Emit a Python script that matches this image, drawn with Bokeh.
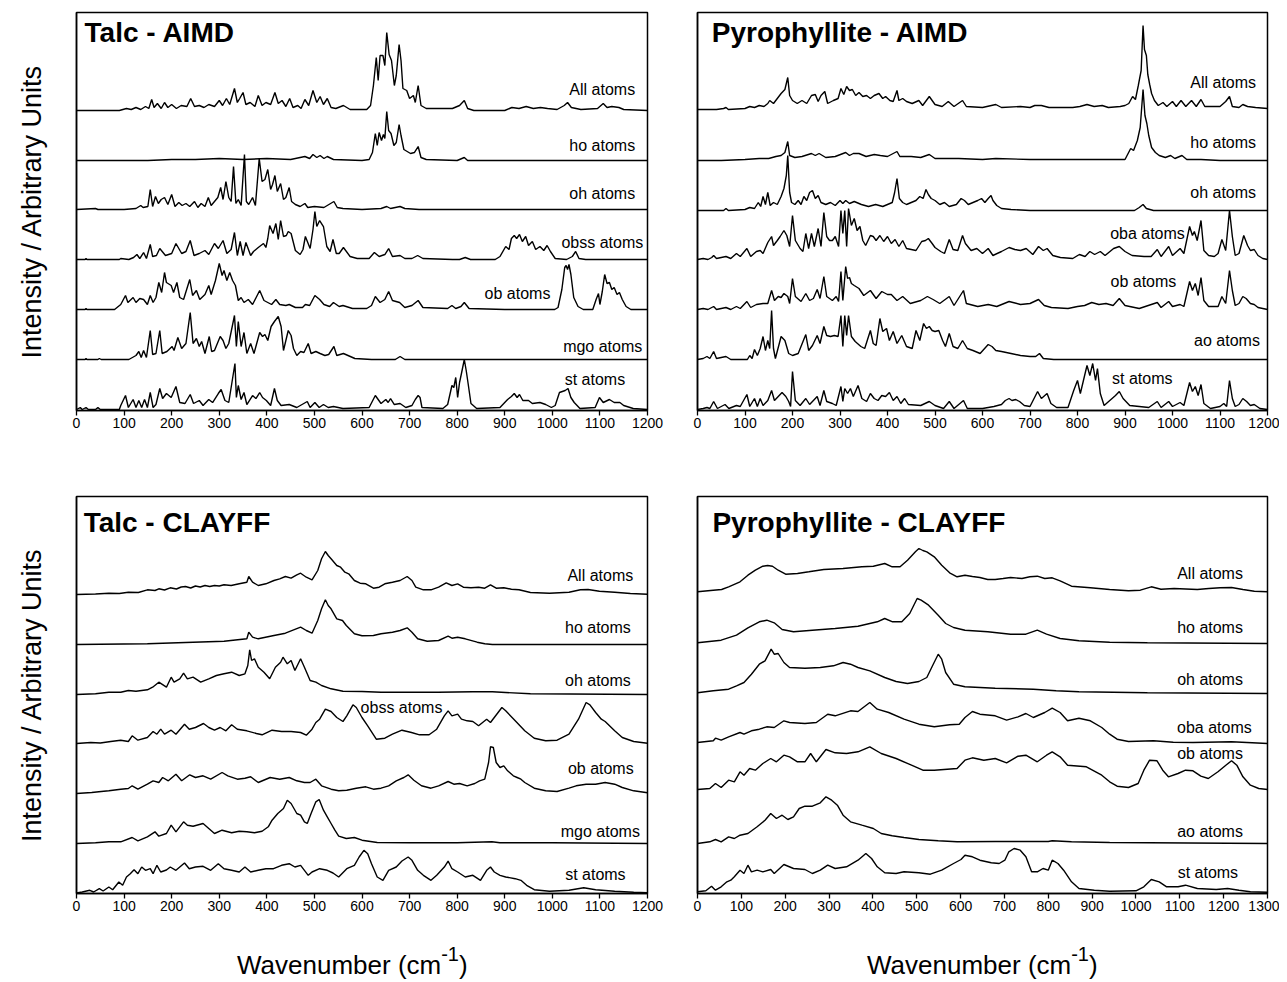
from bokeh.plotting import figure
from bokeh.layouts import column, row
from bokeh.models import ColumnDataSource, Label, FixedTicker, Div
from bokeh.embed import file_html
from bokeh.resources import INLINE

FONT = "Liberation Sans"

# ---------------- categories / texts ----------------
PANEL_TITLES = ["Talc - AIMD", "Pyrophyllite - AIMD", "Talc - CLAYFF", "Pyrophyllite - CLAYFF"]
TALC_LABELS = ["All atoms", "ho atoms", "oh atoms", "obss atoms", "ob atoms", "mgo atoms", "st atoms"]
PYRO_LABELS = ["All atoms", "ho atoms", "oh atoms", "oba atoms", "ob atoms", "ao atoms", "st atoms"]
Y_TITLE = "Intensity / Arbitrary Units"
X_TITLE = ("Wavenumber (cm", "-1", ")")
X_TICKS_1200 = [0, 100, 200, 300, 400, 500, 600, 700, 800, 900, 1000, 1100, 1200]
X_TICKS_1300 = [0, 100, 200, 300, 400, 500, 600, 700, 800, 900, 1000, 1100, 1200, 1300]

# ---------------- spectra: (wavenumber cm-1, intensity a.u.) ----------------
TALC_AIMD_ALL = [(0,0),(90,0),(105,2),(115,1),(125,3),(135,1),(145,4),(152,2),(158,11),(163,3),(170,7),(178,2),(185,8),(192,3),(200,6),(210,2),(220,5),(232,4),(240,12),(248,4),(258,5),(268,3),(278,6),(290,4),(300,10),(307,5),(315,12),(322,6),(332,22),(338,8),(343,12),(350,18),(356,6),(365,8),(375,4),(382,15),(390,5),(398,8),(408,6),(417,18),(424,7),(432,10),(440,4),(448,12),(455,3),(465,5),(472,2),(480,11),(488,5),(497,20),(505,8),(512,14),(519,6),(527,12),(535,3),(545,2),(561,5),(575,1),(610,1),(618,5),(624,25),(630,53),(634,30),(638,55),(644,55),(648,45),(652,78),(657,56),(662,50),(668,25),(672,35),(678,66),(682,50),(686,22),(694,20),(700,12),(708,15),(712,8),(718,25),(724,5),(735,2),(790,2),(805,5),(815,10),(822,2),(835,0),(900,0),(915,3),(930,2),(945,4),(960,2),(975,3),(990,2),(1010,1),(1025,5),(1032,8),(1040,3),(1060,1),(1095,2),(1107,7),(1115,3),(1125,4),(1140,3),(1150,1),(1200,0)]
TALC_AIMD_HO = [(0,0),(150,0),(200,1),(250,1),(300,2),(350,1),(400,2),(450,1),(480,4),(490,2),(497,6),(505,3),(512,5),(520,2),(527,4),(540,1),(600,0),(615,1),(622,8),(628,27),(632,15),(636,28),(641,20),(645,26),(648,22),(652,49),(656,30),(661,27),(667,15),(672,18),(678,36),(682,25),(688,11),(695,9),(702,7),(710,8),(718,14),(724,3),(735,1),(800,0),(815,3),(822,0),(1200,0)]
TALC_AIMD_OH = [(0,0),(40,1),(45,0),(100,0),(125,1),(135,4),(140,2),(150,3),(155,20),(160,3),(166,13),(172,6),(178,10),(185,12),(192,5),(200,15),(207,3),(215,7),(222,4),(230,6),(238,3),(248,8),(255,2),(262,6),(270,3),(277,12),(283,4),(290,8),(297,12),(303,22),(308,10),(314,28),(320,12),(325,8),(330,43),(335,6),(340,10),(346,4),(353,55),(357,8),(362,5),(370,12),(376,4),(384,51),(390,28),(396,30),(402,40),(408,20),(412,25),(417,34),(422,18),(429,26),(435,10),(440,12),(447,22),(452,8),(460,5),(470,3),(480,6),(486,2),(500,3),(520,2),(541,8),(548,2),(560,1),(600,0),(640,1),(652,3),(660,1),(680,3),(690,1),(720,0),(1200,0)]
TALC_AIMD_OBSS = [(0,0),(18,0),(20,1),(22,0),(90,0),(93,1),(110,0),(120,2),(127,5),(133,1),(141,7),(147,1),(155,15),(160,3),(168,4),(175,11),(187,4),(200,6),(209,16),(221,6),(230,8),(239,19),(247,4),(258,6),(270,9),(278,5),(290,16),(298,11),(308,19),(316,6),(325,10),(332,27),(338,4),(344,18),(350,4),(356,17),(366,4),(372,8),(382,12),(393,16),(398,12),(402,21),(406,34),(413,26),(419,36),(424,20),(429,39),(435,23),(441,24),(445,28),(451,26),(460,9),(470,5),(476,10),(481,23),(491,11),(497,30),(501,48),(505,33),(511,39),(519,33),(526,13),(533,8),(539,20),(546,6),(552,6),(561,12),(575,3),(590,1),(615,1),(626,7),(636,3),(648,5),(656,11),(664,3),(680,4),(690,1),(705,1),(717,4),(728,1),(790,0),(805,0),(817,2),(828,0),(880,0),(890,3),(902,13),(909,10),(914,21),(920,24),(925,21),(931,25),(937,18),(944,23),(950,14),(958,18),(965,10),(974,13),(982,9),(989,14),(996,8),(1006,1),(1030,0),(1042,3),(1049,8),(1056,1),(1070,0),(1200,0)]
TALC_AIMD_OB = [(0,0),(18,0),(20,1),(22,0),(80,0),(93,5),(103,14),(108,7),(119,12),(125,7),(133,11),(141,10),(149,5),(155,14),(161,7),(167,12),(173,27),(179,17),(185,37),(189,27),(199,24),(204,17),(211,27),(217,12),(225,10),(238,30),(244,14),(252,19),(259,10),(270,15),(278,24),(283,15),(292,29),(300,46),(306,34),(310,39),(316,29),(322,37),(328,29),(334,24),(340,9),(346,12),(352,7),(361,10),(370,5),(385,19),(394,9),(410,5),(419,10),(427,5),(440,4),(447,5),(460,2),(475,2),(481,5),(490,4),(501,14),(511,10),(520,5),(532,3),(540,7),(552,3),(560,4),(580,1),(610,1),(620,4),(628,13),(638,7),(648,10),(656,18),(664,9),(679,7),(690,2),(705,4),(718,9),(728,2),(780,1),(789,4),(797,1),(808,3),(815,7),(825,1),(900,0),(1005,0),(1012,2),(1020,20),(1026,42),(1029,44),(1032,40),(1035,45),(1039,35),(1045,12),(1054,3),(1065,0),(1085,0),(1092,10),(1097,16),(1100,5),(1105,18),(1110,35),(1115,26),(1120,27),(1125,20),(1130,22),(1136,15),(1141,17),(1147,10),(1155,3),(1165,0),(1200,0)]
TALC_AIMD_MGO = [(0,0),(18,0),(20,1),(22,0),(45,0),(48,1),(52,0),(110,0),(125,4),(131,8),(136,2),(141,9),(147,2),(155,29),(160,5),(167,6),(175,29),(180,6),(190,8),(201,13),(205,9),(213,22),(221,11),(230,16),(239,47),(245,16),(252,21),(258,13),(263,18),(270,6),(279,23),(284,8),(290,9),(302,23),(308,19),(314,11),(320,16),(332,44),(336,13),(340,38),(346,13),(352,27),(358,6),(366,16),(373,6),(385,27),(391,23),(396,25),(402,19),(409,33),(416,38),(424,43),(430,33),(435,9),(445,29),(451,24),(456,11),(463,4),(471,8),(478,7),(487,16),(493,6),(503,8),(512,6),(522,4),(530,5),(541,13),(547,4),(561,6),(585,1),(620,0),(670,0),(680,3),(690,0),(1200,0)]
TALC_AIMD_ST = [(0,0),(8,2),(12,0),(20,2),(25,0),(40,0),(45,2),(50,0),(90,0),(93,4),(103,14),(109,2),(119,10),(125,2),(131,9),(137,2),(143,10),(149,2),(155,17),(161,2),(167,5),(175,21),(181,11),(189,16),(199,12),(209,23),(217,7),(228,6),(239,15),(246,6),(258,9),(266,4),(278,10),(286,7),(298,16),(304,20),(312,9),(320,7),(333,46),(336,12),(340,24),(346,10),(352,17),(358,5),(370,14),(377,11),(385,17),(391,12),(399,9),(408,4),(416,21),(422,9),(430,4),(447,5),(463,2),(485,8),(491,2),(501,7),(510,2),(519,5),(529,2),(540,3),(560,1),(615,2),(628,14),(640,6),(650,10),(655,7),(660,11),(668,5),(680,6),(692,2),(705,4),(712,10),(718,14),(722,12),(726,2),(770,1),(780,5),(789,24),(793,22),(797,32),(801,12),(805,27),(809,36),(815,50),(819,39),(823,26),(829,6),(841,1),(890,2),(906,10),(914,13),(920,16),(926,12),(931,15),(938,9),(950,9),(958,6),(974,7),(986,5),(998,2),(1006,4),(1015,17),(1021,18),(1027,19),(1033,21),(1039,12),(1046,7),(1058,1),(1090,2),(1099,12),(1107,7),(1120,10),(1130,7),(1142,7),(1150,4),(1170,1),(1200,0)]

PYRO_AIMD_ALL = [(0,0),(40,0),(55,1),(60,2),(65,0),(100,1),(110,3),(120,2),(130,4),(140,3),(148,6),(152,9),(160,6),(168,11),(176,16),(184,20),(190,32),(194,14),(200,9),(210,6),(220,9),(230,6),(240,14),(248,15),(254,8),(260,14),(268,18),(274,6),(286,9),(296,11),(302,21),(308,15),(314,23),(320,19),(326,20),(333,14),(340,17),(348,13),(356,14),(364,11),(372,14),(382,16),(390,11),(396,13),(405,9),(412,8),(420,19),(424,9),(432,11),(440,8),(452,6),(466,9),(474,4),(488,13),(500,5),(515,3),(528,8),(540,3),(558,9),(566,3),(600,2),(628,5),(640,2),(680,3),(700,2),(710,4),(724,4),(740,2),(790,2),(805,3),(820,5),(835,3),(852,4),(865,2),(890,3),(900,4),(908,6),(916,13),(922,10),(928,24),(934,39),(938,84),(941,60),(945,54),(948,35),(952,25),(956,16),(962,9),(970,4),(980,7),(988,3),(1000,8),(1008,3),(1018,9),(1028,3),(1040,9),(1050,3),(1060,10),(1068,3),(1100,3),(1112,8),(1120,13),(1126,3),(1140,2),(1148,5),(1158,3),(1175,2),(1200,1)]
PYRO_AIMD_HO = [(0,0),(50,0),(100,1),(130,2),(150,2),(165,4),(176,5),(184,8),(190,19),(194,5),(205,3),(220,4),(240,7),(248,5),(256,7),(270,3),(290,4),(312,8),(320,5),(328,7),(340,7),(355,4),(372,6),(385,5),(400,4),(420,9),(426,4),(450,4),(470,3),(488,6),(500,2),(550,2),(600,1),(628,2),(700,1),(900,1),(912,12),(918,10),(926,20),(932,33),(938,71),(942,45),(946,37),(950,25),(956,13),(964,8),(972,5),(985,3),(996,5),(1005,2),(1020,5),(1030,1),(1060,1),(1100,0),(1200,0)]
PYRO_AIMD_OH = [(0,0),(55,0),(60,2),(65,0),(100,1),(110,3),(120,2),(128,8),(133,4),(138,14),(143,6),(148,18),(153,5),(160,8),(168,6),(176,14),(182,22),(187,35),(190,55),(194,18),(198,8),(205,6),(212,10),(218,6),(224,14),(230,10),(236,18),(242,20),(248,12),(254,15),(260,8),(270,6),(280,8),(290,5),(300,10),(306,7),(312,10),(320,7),(330,9),(345,6),(360,4),(375,6),(390,4),(400,6),(410,8),(415,18),(420,32),(425,12),(432,8),(440,6),(450,8),(460,10),(468,14),(475,12),(481,21),(486,16),(492,12),(500,10),(510,6),(520,8),(530,4),(545,6),(555,12),(562,10),(570,6),(580,8),(590,10),(598,12),(605,8),(612,12),(618,15),(622,10),(630,5),(640,2),(660,1),(700,0),(920,0),(930,3),(938,6),(945,2),(960,0),(1200,0)]
PYRO_AIMD_OBA = [(0,0),(12,1),(22,0),(30,2),(34,4),(40,1),(60,3),(70,1),(82,6),(90,3),(104,11),(112,3),(124,8),(132,9),(138,6),(148,17),(156,23),(160,14),(168,19),(174,23),(182,29),(188,24),(194,13),(200,44),(206,19),(216,11),(222,8),(228,26),(234,11),(240,26),(246,13),(254,31),(260,13),(266,47),(272,23),(278,19),(284,19),(290,23),(297,13),(302,49),(306,26),(310,49),(314,13),(318,51),(324,34),(330,41),(336,29),(342,33),(348,19),(354,14),(364,24),(370,23),(376,19),(384,24),(392,18),(400,23),(408,16),(416,20),(424,13),(432,19),(440,11),(460,9),(472,18),(480,19),(486,21),(494,16),(500,12),(512,8),(520,6),(530,20),(538,10),(548,9),(558,24),(564,16),(576,9),(588,11),(600,6),(612,11),(622,4),(640,8),(656,12),(668,10),(680,9),(692,11),(706,5),(718,13),(728,9),(736,11),(748,4),(764,2),(790,1),(804,5),(816,3),(826,8),(836,5),(848,8),(858,4),(876,11),(888,13),(900,8),(915,4),(940,3),(955,3),(968,10),(976,3),(992,13),(1000,4),(1016,11),(1024,6),(1036,33),(1042,24),(1046,28),(1052,19),(1060,39),(1066,9),(1076,4),(1088,3),(1096,6),(1104,20),(1112,9),(1120,49),(1126,23),(1132,4),(1140,6),(1150,24),(1158,14),(1164,9),(1172,10),(1180,4),(1190,1),(1200,0)]
PYRO_AIMD_OB = [(0,0),(12,1),(22,0),(34,3),(40,0),(60,2),(70,0),(82,3),(90,1),(104,8),(112,2),(124,5),(138,6),(148,6),(156,19),(162,9),(170,13),(176,12),(182,16),(190,13),(194,6),(200,31),(206,13),(218,8),(228,16),(236,9),(244,11),(252,20),(258,11),(266,33),(272,13),(284,9),(292,13),(297,8),(302,38),(306,9),(312,43),(316,31),(320,32),(324,26),(330,24),(340,21),(350,14),(364,19),(376,11),(388,18),(400,15),(408,15),(420,9),(432,13),(448,6),(470,9),(484,13),(496,10),(510,6),(530,13),(540,4),(560,19),(566,6),(590,3),(612,5),(630,3),(656,8),(680,5),(700,6),(718,10),(730,4),(745,2),(780,1),(800,3),(815,4),(830,7),(845,5),(860,6),(875,4),(888,11),(900,4),(930,1),(968,7),(976,2),(992,8),(1000,3),(1016,5),(1024,3),(1036,28),(1042,19),(1048,26),(1054,14),(1060,32),(1066,9),(1076,3),(1096,3),(1104,13),(1112,6),(1120,39),(1126,19),(1132,4),(1140,6),(1148,13),(1155,11),(1164,6),(1172,5),(1180,2),(1200,0)]
PYRO_AIMD_AO = [(0,0),(12,1),(20,3),(26,1),(34,8),(40,1),(60,3),(70,0),(105,0),(110,4),(115,1),(120,10),(126,4),(132,11),(138,23),(143,9),(148,19),(152,11),(156,49),(160,11),(164,1),(176,23),(184,19),(192,6),(200,4),(212,6),(228,25),(234,9),(242,14),(252,24),(258,16),(266,33),(272,24),(280,23),(288,24),(296,23),(302,44),(306,13),(310,44),(314,24),(318,44),(324,23),(332,18),(344,13),(352,11),(364,29),(370,16),(376,14),(384,41),(390,28),(398,31),(404,19),(412,28),(420,16),(430,24),(440,13),(452,11),(460,29),(468,19),(476,36),(482,31),(488,33),(494,29),(500,28),(508,29),(516,19),(522,13),(530,26),(538,13),(548,11),(558,19),(568,11),(580,9),(595,6),(612,15),(620,13),(628,9),(640,8),(660,6),(680,4),(700,3),(712,3),(720,6),(728,1),(750,0),(1200,0)]
PYRO_AIMD_ST = [(0,0),(12,1),(20,2),(26,1),(34,8),(42,1),(58,5),(66,1),(82,4),(90,3),(104,15),(110,3),(120,11),(126,3),(132,11),(138,4),(148,9),(156,19),(162,9),(170,13),(178,17),(186,13),(192,8),(196,3),(200,38),(206,9),(216,4),(228,11),(236,5),(252,13),(258,4),(266,19),(272,8),(284,6),(292,4),(302,23),(306,8),(310,21),(316,16),(322,21),(328,13),(338,24),(346,11),(356,8),(364,16),(372,11),(380,9),(388,14),(396,13),(404,17),(412,9),(420,13),(428,6),(436,11),(444,5),(470,4),(488,8),(500,4),(518,1),(530,8),(540,1),(560,9),(568,1),(600,1),(624,3),(640,5),(648,9),(656,11),(662,9),(670,10),(678,8),(688,4),(700,3),(716,18),(724,11),(736,16),(744,6),(756,2),(780,2),(792,19),(800,29),(806,16),(812,28),(820,44),(826,34),(832,46),(838,29),(842,41),(848,16),(856,4),(868,9),(880,14),(888,18),(896,11),(910,4),(930,3),(950,2),(968,8),(976,2),(992,8),(1000,3),(1016,7),(1024,4),(1036,27),(1042,18),(1048,23),(1054,14),(1060,25),(1066,6),(1080,1),(1100,3),(1108,6),(1114,3),(1120,29),(1126,11),(1132,3),(1140,5),(1148,11),(1156,8),(1164,4),(1172,5),(1184,1),(1200,0)]

TALC_CLAYFF_ALL = [(0,0),(40,0.5),(68,1.3),(90,1),(109,2.3),(130,2),(149,4.7),(165,4),(173,5.7),(185,4.5),(197,6.7),(210,5.5),(220,7.5),(229,8),(240,6.5),(250,8.5),(260,7.5),(270,9),(280,8),(290,9),(300,8.5),(310,9.7),(325,9),(342,10.7),(358,12.3),(362,18),(370,12.3),(382,9),(398,10.7),(415,14),(427,15.7),(439,18),(451,16.3),(463,19.7),(471,21.3),(483,17.3),(495,14.7),(507,24),(515,35.7),(523,43),(529,39),(535,35.7),(547,29),(555,27.3),(564,22.3),(572,20.7),(584,14),(596,11.3),(608,10.7),(624,6.3),(636,7.3),(648,10.7),(664,12.3),(680,14),(695,18),(705,14),(713,7.3),(729,4.7),(745,4.7),(761,7.3),(777,11.7),(789,9),(801,10.7),(813,7.3),(829,6.7),(845,7.3),(858,6.3),(870,9.7),(882,6.3),(898,6.7),(914,5.3),(930,4.7),(954,2),(994,1.3),(1035,2.3),(1059,4.7),(1075,5),(1099,3.3),(1131,2.3),(1164,1),(1200,0.3)]
TALC_CLAYFF_HO = [(0,0),(149,0.7),(229,2),(310,3.3),(358,5.7),(362,12.3),(370,7.3),(382,5.7),(415,9),(439,11.3),(471,17.3),(483,14),(495,11.3),(507,24),(515,35.7),(523,44.7),(529,39),(535,35.7),(547,25.7),(559,24),(567,19),(584,10.7),(600,8.7),(624,9),(640,10.7),(664,12.3),(680,14),(695,16.7),(705,12.3),(717,5.7),(737,3.3),(761,4),(781,8.3),(789,6.3),(801,7.3),(817,5.7),(842,2.3),(858,0.7),(874,0),(1200,0)]
TALC_CLAYFF_OH = [(0,0),(40,0.7),(68,2.3),(93,2.3),(109,4),(125,3.3),(149,4.7),(160,7.3),(173,12.3),(189,7.3),(199,17.3),(205,12.3),(217,15.7),(225,21.3),(233,15.7),(245,17.3),(261,12.3),(278,15.7),(294,19),(310,20.7),(326,22.3),(342,19),(354,20.7),(360,29),(364,44.7),(368,34),(374,35.7),(382,27.3),(394,22.3),(406,15.7),(418,27.3),(429,32.3),(434,37.3),(443,30.7),(451,34),(459,24),(471,35.7),(479,27.3),(491,14),(503,12.3),(515,9),(535,5.7),(560,3.3),(600,3),(640,2.3),(700,2.3),(760,2.3),(833,2.7),(874,2.7),(954,0.7),(1200,0)]
TALC_CLAYFF_OBSS = [(0,0),(30,1),(50,0.5),(72,2),(93,3.3),(109,2),(117,7.7),(129,3.3),(149,6),(161,12),(169,9.3),(177,14.3),(185,9.3),(199,13.3),(209,9.3),(227,19.3),(237,14.3),(250,16),(267,20),(278,16),(290,13.3),(302,16),(314,12.7),(326,18.7),(338,14.3),(358,12.7),(378,10),(390,8.7),(411,13.3),(431,12),(451,12),(471,11),(483,8.3),(495,14.3),(503,21),(511,24.3),(523,34.3),(535,32),(547,26),(560,22),(568,27.7),(581,38.7),(588,36),(600,26),(612,17.7),(630,4.3),(648,5.3),(664,9.3),(684,13.3),(704,11),(721,8.7),(741,8.7),(757,14.3),(773,27.7),(781,32.7),(789,27.7),(801,29.3),(809,24.3),(821,22.7),(833,22),(845,17.7),(862,24.3),(870,21),(878,26),(886,31),(894,36),(902,32.7),(922,22.7),(942,12.7),(962,5.3),(986,2.7),(1010,3.3),(1035,9.3),(1055,24.3),(1071,41),(1079,38.7),(1091,31),(1103,24.3),(1111,22),(1131,12.7),(1147,6),(1171,2),(1200,0.3)]
TALC_CLAYFF_OB = [(0,0),(32,1),(52,2),(68,2.7),(93,4.3),(109,5),(117,7.7),(129,4.3),(149,9.3),(161,12.7),(173,11),(181,16),(193,12.7),(209,19.3),(221,12.7),(238,18.7),(250,16),(266,17.7),(282,14.3),(306,21),(318,17.7),(338,14.3),(354,15.3),(366,16.7),(382,11),(407,16),(427,14.3),(447,16),(463,12.7),(479,11),(491,11),(503,14.3),(515,7.7),(535,4.3),(551,2.7),(568,3.3),(588,5.3),(608,6.7),(624,4.3),(640,5.3),(656,7.7),(672,12.7),(688,16),(697,18.7),(709,13.3),(725,7.7),(745,5.3),(761,7.7),(781,12),(793,9.3),(805,10),(821,7.7),(837,10),(847,12.7),(858,14.3),(866,31),(870,46.7),(876,46),(882,31),(890,26),(898,27.7),(906,22.7),(918,17.7),(926,16),(934,14.3),(942,11),(962,5.3),(986,2.7),(1010,2),(1035,5.3),(1050,7.7),(1071,9.3),(1091,9.3),(1111,11),(1131,9.3),(1147,6),(1171,2.7),(1200,0.7)]
TALC_CLAYFF_MGO = [(0,0),(40,0.7),(68,1.7),(93,1.7),(117,6),(129,2.7),(149,6.7),(165,11.7),(173,7.3),(189,10),(199,18.3),(209,11.7),(225,21.7),(233,18.3),(245,17.3),(266,20),(278,15),(290,10),(306,13.3),(326,10.7),(342,12.3),(358,11.7),(374,10.7),(390,12.3),(403,16.7),(411,23.3),(423,30),(435,35),(443,43.3),(451,40),(463,30),(471,28.3),(479,21.7),(485,20),(493,30),(503,41.7),(510,44),(519,33.3),(527,26.7),(535,20),(543,13.3),(551,7.3),(567,5),(584,6),(600,3.3),(632,1),(700,0.7),(800,0.7),(873,1.7),(890,0.7),(1000,0.7),(1200,0)]
TALC_CLAYFF_ST = [(0,0),(12,1),(28,2.7),(36,1),(48,4.3),(56,2),(68,6),(76,3.3),(89,11),(97,7.7),(105,16),(113,19.3),(121,23.3),(129,19.3),(137,26),(145,22.7),(155,24.3),(161,19.3),(169,27.7),(177,21),(189,23),(197,26),(209,22.7),(227,30),(237,24.3),(250,26),(266,26.7),(282,22.7),(298,29.3),(310,24.3),(326,22.7),(342,21),(354,26),(366,21),(382,22.7),(398,24.3),(414,24.3),(431,27.7),(447,29.3),(459,26),(471,27.7),(487,17.7),(495,21),(511,24.3),(527,22.7),(539,20),(551,16),(568,24.3),(584,27.7),(594,36),(604,42.7),(612,39.3),(620,29.3),(632,16),(644,12.7),(656,22.7),(672,26),(684,32),(697,36),(705,32.7),(717,22.7),(729,17.7),(745,12.7),(757,17.7),(773,26),(781,32),(789,24.3),(801,21),(817,16),(833,17.7),(849,12.7),(862,22.7),(870,26),(878,21),(890,17.7),(902,16),(922,14.3),(934,12.7),(946,7.7),(962,3.3),(994,1.7),(1035,2.7),(1066,5.3),(1091,3.3),(1131,1.7),(1171,0.7),(1200,0.3)]

PYRO_CLAYFF_ALL = [(0,0.7),(36,2.3),(55,3),(71,5.7),(97,10.7),(115,17.3),(132,22.3),(149,26.3),(160,27),(171,26.3),(184,22.3),(201,18.3),(228,19),(254,20.7),(288,23),(332,24),(375,25.7),(401,26.3),(427,29),(444,25.7),(462,25.7),(479,32.3),(497,40.7),(505,44),(514,42),(523,40.7),(540,35.7),(557,27.3),(575,19.7),(592,15.7),(610,17.3),(627,16),(644,15),(662,13),(679,13),(697,14),(714,15),(740,14),(758,15.7),(775,16.3),(792,14),(809,14.7),(827,11.7),(853,6.3),(896,4.7),(940,3),(983,1.7),(1010,2.3),(1035,5.7),(1057,3.3),(1087,4),(1140,3),(1166,4),(1192,4.7),(1218,5),(1244,3),(1270,1.3),(1300,0.7)]
PYRO_CLAYFF_HO = [(0,0.7),(54,3.3),(89,8.3),(115,15.7),(141,21.7),(158,23.3),(175,20.7),(193,14),(219,11.7),(262,13.3),(314,15),(366,17.3),(410,21.7),(427,25),(445,21.7),(466,21.7),(484,30),(501,45),(510,43.3),(527,38.3),(549,28.3),(566,20),(584,16),(610,13.3),(662,11.7),(714,9.3),(749,9.3),(775,13.3),(796,9.3),(827,5),(870,2.7),(940,1.3),(1026,0.7),(1300,0)]
PYRO_CLAYFF_OH = [(0,0.7),(36,2.7),(71,4.3),(89,7.7),(106,11),(123,19.3),(141,29.3),(154,32.7),(168,44.3),(175,39.3),(184,40),(197,31),(210,26),(245,25.3),(280,26),(310,27.7),(332,31),(349,29.3),(366,26),(393,22.7),(427,16),(453,12),(479,10),(505,12),(523,16),(536,27.7),(549,39.3),(557,34.3),(566,21),(584,9.3),(610,6.7),(679,5.3),(766,4.3),(818,2.7),(870,1.7),(1026,0.7),(1300,0)]
PYRO_CLAYFF_OBA = [(0,1),(36,2.7),(41,5.3),(54,3.3),(71,6.7),(97,11),(106,9.3),(123,12.7),(141,14.3),(158,16.7),(175,16),(197,22.7),(210,21),(245,20),(271,21),(297,29.3),(314,27.7),(349,32.7),(366,32),(393,41),(410,34.3),(436,31),(471,24.3),(505,19.3),(540,16.7),(575,18.7),(597,19.3),(610,26),(627,32),(644,29.3),(679,27.7),(705,23.3),(731,26.7),(749,30),(766,26),(792,31),(809,35.3),(827,31),(844,22.7),(870,25.3),(896,22.7),(922,16),(940,9.3),(957,4.3),(983,2),(1040,2.7),(1085,1.3),(1130,1),(1218,1.7),(1300,0)]
PYRO_CLAYFF_OB = [(0,0),(28,1),(41,6),(54,2),(71,9.3),(84,7.7),(97,17.7),(106,14.3),(119,21),(132,19.3),(149,26),(167,31),(180,27.7),(197,34.3),(210,32.7),(228,27.7),(245,27.7),(258,36),(271,27.7),(293,40),(314,36.7),(340,36),(366,37.7),(393,42.7),(419,36),(453,31),(488,24.3),(514,19.3),(540,19.3),(592,21),(610,29.3),(627,31.7),(653,29.3),(679,31),(705,26.7),(731,33.3),(749,34.3),(775,27.7),(796,34.3),(809,37.7),(827,32.7),(844,24.3),(887,22.7),(922,14.3),(940,7.7),(957,3.3),(983,2),(1005,6),(1018,19.3),(1031,29.3),(1048,28.7),(1061,19.3),(1074,12.7),(1096,16),(1113,19.3),(1130,18.7),(1148,13.3),(1165,11),(1187,17.7),(1205,24.3),(1218,28.7),(1230,24.3),(1244,12.7),(1261,4.3),(1280,1),(1300,0)]
PYRO_CLAYFF_AO = [(0,0),(28,1.7),(41,4),(54,1.7),(71,6.7),(84,5),(97,8.3),(115,10),(136,16.7),(154,23.3),(167,30),(180,25),(193,28.3),(206,24),(219,26.7),(232,35),(245,37.3),(262,37.3),(280,40.7),(293,46.7),(306,43.3),(319,38.3),(332,28.3),(349,21.7),(375,18.3),(401,15),(419,10),(444,7.7),(471,6),(505,4),(549,2.7),(592,1.7),(679,2),(800,2),(809,2.7),(853,1.7),(940,1),(1300,0)]
PYRO_CLAYFF_ST = [(0,0.7),(19,1.7),(32,6.3),(41,2.3),(54,5.7),(67,10.7),(76,12.3),(84,15.7),(97,22.3),(106,19),(115,27.3),(123,20.7),(136,22.3),(149,20.7),(167,23),(175,19),(197,28),(219,24),(245,23),(262,19),(280,22.3),(297,27.3),(314,24),(340,25.7),(366,32.3),(384,39),(397,34),(410,25.7),(427,19.7),(453,19),(471,20.7),(505,19.7),(531,18.3),(557,22.3),(584,29),(601,33),(610,37.3),(627,35.7),(644,32.3),(670,29.7),(688,29),(701,32.3),(710,40.7),(722,44),(736,42.3),(749,35.7),(762,20.7),(775,20.7),(788,24),(800,22.3),(809,32.3),(822,29),(835,22.3),(853,10.7),(870,4),(905,2.3),(940,1.3),(1000,1.7),(1018,5.7),(1035,13),(1053,10.7),(1070,5.7),(1096,5.7),(1113,7.3),(1140,4),(1183,3),(1209,4),(1235,2.3),(1261,0.7),(1300,0.3)]

# ---------------- layout (positions, not data) ----------------
PANELS = [
    dict(title=PANEL_TITLES[0], xmax=1200, ticks=X_TICKS_1200, labels=TALC_LABELS,
         spectra=[TALC_AIMD_ALL, TALC_AIMD_HO, TALC_AIMD_OH, TALC_AIMD_OBSS, TALC_AIMD_OB, TALC_AIMD_MGO, TALC_AIMD_ST],
         offsets=[300, 250, 201, 151, 101, 51, 1],
         label_pos=[(1174, 321), (1174, 265), (1174, 217), (1191, 168), (996, 117), (1189, 64), (1153, 31)],
         title_pos=(17, 378), fw=571, fh=398, left=76, right=25, top=12, bottom=40, ylab=True),
    dict(title=PANEL_TITLES[1], xmax=1200, ticks=X_TICKS_1200, labels=PYRO_LABELS,
         spectra=[PYRO_AIMD_ALL, PYRO_AIMD_HO, PYRO_AIMD_OH, PYRO_AIMD_OBA, PYRO_AIMD_OB, PYRO_AIMD_AO, PYRO_AIMD_ST],
         offsets=[301, 250, 200, 151, 101, 51, 1],
         label_pos=[(1176, 328), (1176, 268), (1176, 218), (1026, 177), (1008, 129), (1184, 70), (1000, 32)],
         title_pos=(30, 378), fw=570, fh=398, left=25, right=12, top=12, bottom=40, ylab=False),
    dict(title=PANEL_TITLES[2], xmax=1200, ticks=X_TICKS_1200, labels=TALC_LABELS,
         spectra=[TALC_CLAYFF_ALL, TALC_CLAYFF_HO, TALC_CLAYFF_OH, TALC_CLAYFF_OBSS, TALC_CLAYFF_OB, TALC_CLAYFF_MGO, TALC_CLAYFF_ST],
         offsets=[299, 249, 199, 150, 100, 50, 0.5],
         label_pos=[(1170, 318), (1165, 266), (1165, 213), (769, 186), (1171, 125), (1184, 62), (1154, 19)],
         title_pos=(15, 371), fw=571, fh=397, left=76, right=25, top=46, bottom=30, ylab=True),
    dict(title=PANEL_TITLES[3], xmax=1300, ticks=X_TICKS_1300, labels=PYRO_LABELS,
         spectra=[PYRO_CLAYFF_ALL, PYRO_CLAYFF_HO, PYRO_CLAYFF_OH, PYRO_CLAYFF_OBA, PYRO_CLAYFF_OB, PYRO_CLAYFF_AO, PYRO_CLAYFF_ST],
         offsets=[301, 250, 200, 150, 104, 50, 1],
         label_pos=[(1244, 320), (1244, 266), (1244, 214), (1264, 166), (1244, 140), (1244, 62), (1233, 21)],
         title_pos=(34, 371), fw=570, fh=397, left=25, right=12, top=46, bottom=30, ylab=False),
]


def make_panel(cfg):
    p = figure(frame_width=cfg["fw"], frame_height=cfg["fh"], x_range=(0, cfg["xmax"]), y_range=(0, cfg["fh"]),
               output_backend="svg", toolbar_location=None, tools="",
               min_border_left=cfg["left"], min_border_right=cfg["right"],
               min_border_top=cfg["top"], min_border_bottom=cfg["bottom"])
    p.background_fill_color = "white"
    p.border_fill_color = "white"
    p.outline_line_color = "black"
    p.outline_line_width = 1.5
    p.xgrid.visible = False
    p.ygrid.visible = False

    xa = p.xaxis[0]
    xa.ticker = FixedTicker(ticks=cfg["ticks"])
    xa.minor_tick_line_color = None
    xa.major_tick_in = 0
    xa.major_tick_out = 5
    xa.major_tick_line_width = 1.3
    xa.axis_line_width = 1.5
    xa.major_label_standoff = 2
    xa.major_label_text_font = FONT
    xa.major_label_text_font_size = "14px"
    xa.major_label_text_color = "black"

    ya = p.yaxis[0]
    ya.ticker = FixedTicker(ticks=[])
    ya.minor_tick_line_color = None
    ya.major_tick_line_color = None
    ya.axis_line_width = 1.5
    if cfg["ylab"]:
        ya.axis_label = Y_TITLE
        ya.axis_label_text_font = FONT
        ya.axis_label_text_font_size = "27px"
        ya.axis_label_text_font_style = "normal"
        ya.axis_label_text_color = "black"
        ya.axis_label_standoff = 30

    for spec, off, lab, (lx, ly) in zip(cfg["spectra"], cfg["offsets"], cfg["labels"], cfg["label_pos"]):
        src = ColumnDataSource(dict(x=[pt[0] for pt in spec], y=[off + pt[1] for pt in spec]))
        p.line("x", "y", source=src, line_color="black", line_width=1.4)
        p.add_layout(Label(x=lx, y=ly, text=lab, text_align="right", text_baseline="middle",
                           text_font=FONT, text_font_size="16px", text_color="black"))

    tx, ty = cfg["title_pos"]
    p.add_layout(Label(x=tx, y=ty, text=cfg["title"], text_align="left", text_baseline="middle",
                       text_font=FONT, text_font_size="28px", text_font_style="bold", text_color="black"))
    return p


def x_title_div(width, pad_left):
    main, sup, end = X_TITLE
    html = ('<div style="padding-left:%dpx;padding-top:24px;font-family:\'Liberation Sans\',Arial,sans-serif;'
            'font-size:26px;line-height:26px;color:black;white-space:nowrap">%s'
            '<span style="font-size:20px;position:relative;top:-13px;line-height:0">%s</span>%s</div>'
            % (pad_left, main, sup, end))
    return Div(text=html, width=width, height=56)


figs = [make_panel(c) for c in PANELS]
layout = column(
    row(figs[0], figs[1], spacing=0),
    row(figs[2], figs[3], spacing=0),
    row(x_title_div(672, 232), x_title_div(607, 180), spacing=0),
    spacing=0,
)

open("out.html", "w").write(file_html(layout, INLINE))
